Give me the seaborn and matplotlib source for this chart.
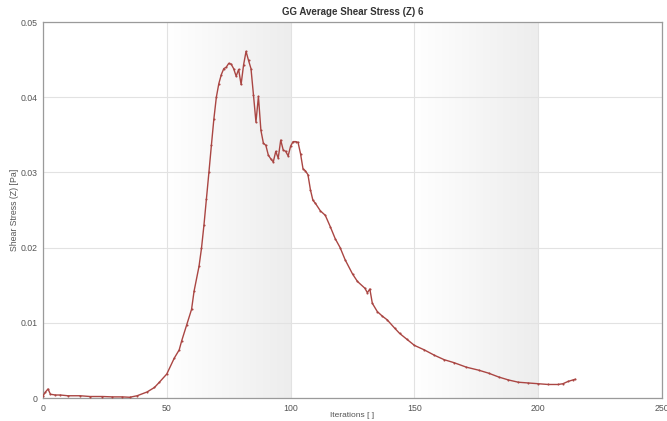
import numpy as np
import pandas as pd
import seaborn as sns
import matplotlib.pyplot as plt
from matplotlib.colors import LinearSegmentedColormap
from matplotlib.ticker import MultipleLocator

# values
iterations = [0, 1, 2, 3, 5, 7, 10, 15, 19, 24, 28, 32, 35, 38, 42, 45, 47, 50,
              53, 55, 56, 58, 60, 61, 63, 64, 65, 66, 67, 68, 69, 70, 71, 72,
              73, 74, 75, 76, 77, 78, 79, 80, 81, 82, 83, 84, 85, 86, 87, 88,
              89, 90, 91, 92, 93, 94, 95, 96, 97, 98, 99, 100, 101, 102, 103,
              104, 105, 106, 107, 108, 109, 110, 112, 114, 116, 118, 120, 122,
              125, 127, 130, 131, 132, 133, 135, 137, 139, 142, 144, 147, 150,
              154, 158, 162, 166, 171, 176, 180, 184, 188, 192, 196, 200, 204,
              208, 210, 212, 214, 215]
stress = [0.0003, 0.0008, 0.0012, 0.0005, 0.0004, 0.0004, 0.0003, 0.0003,
          0.0002, 0.0002, 0.00015, 0.00015, 0.0001, 0.0003, 0.0008, 0.0014,
          0.0021, 0.0032, 0.0053, 0.0064, 0.0076, 0.0097, 0.0118, 0.0142,
          0.0175, 0.0199, 0.0230, 0.0265, 0.0300, 0.0336, 0.0371, 0.0400,
          0.0418, 0.0430, 0.0438, 0.0440, 0.0445, 0.0444, 0.0438, 0.0428,
          0.0437, 0.0417, 0.0443, 0.0461, 0.0449, 0.0438, 0.0403, 0.0367,
          0.0401, 0.0356, 0.0339, 0.0336, 0.0323, 0.0318, 0.0314, 0.0328,
          0.0319, 0.0343, 0.0330, 0.0328, 0.0322, 0.0335, 0.0341, 0.0341,
          0.0340, 0.0325, 0.0305, 0.0302, 0.0297, 0.0277, 0.0263, 0.0259,
          0.0249, 0.0243, 0.0228, 0.0212, 0.0200, 0.0184, 0.0165, 0.0155,
          0.0146, 0.0140, 0.0145, 0.0126, 0.0115, 0.0109, 0.0104, 0.0093,
          0.0086, 0.0078, 0.0070, 0.0064, 0.0057, 0.0051, 0.0047, 0.0041,
          0.0037, 0.0033, 0.0028, 0.0024, 0.0021, 0.0020, 0.0019, 0.0018,
          0.0018, 0.0019, 0.0022, 0.0024, 0.0025]

df = pd.DataFrame({'iteration': iterations, 'stress': stress})

sns.set_style('white')
plt.rcParams['font.family'] = ['Liberation Sans', 'DejaVu Sans']

fig = plt.figure(figsize=(6.67, 4.21), dpi=100)
ax = fig.add_axes([0.0645, 0.0546, 0.928, 0.893])

# shaded bands with a white-to-grey gradient
band_cmap = LinearSegmentedColormap.from_list('band', ['#ffffff', '#ededed'])
grad = np.linspace(0, 1, 256).reshape(1, -1)
for x0, x1 in [(50, 100), (150, 200)]:
    ax.imshow(grad, extent=[x0, x1, 0, 0.05], aspect='auto', cmap=band_cmap,
              zorder=0)

sns.lineplot(x='iteration', y='stress', data=df, ax=ax, color='#aa4643',
             linewidth=1.0, marker='o', markersize=1.5, markeredgewidth=0,
             zorder=3)

ax.set_xlim(0, 250)
ax.set_ylim(0, 0.05)
ax.xaxis.set_major_locator(MultipleLocator(50))
ax.xaxis.set_minor_locator(MultipleLocator(10))
ax.yaxis.set_major_locator(MultipleLocator(0.01))
ax.yaxis.set_minor_locator(MultipleLocator(0.002))
ax.set_yticks([0, 0.01, 0.02, 0.03, 0.04, 0.05])
ax.set_yticklabels(['0', '0.01', '0.02', '0.03', '0.04', '0.05'])

ax.grid(True, which='major', color='#e2e2e2', linewidth=0.8, zorder=1)
ax.set_axisbelow(True)
ax.tick_params(which='both', direction='out', colors='#888888',
               labelcolor='#555555', labelsize=6.3, length=3, width=0.6,
               pad=1)
ax.tick_params(which='minor', length=2)
for side in ax.spines.values():
    side.set_color('#9a9a9a')
    side.set_linewidth(0.9)

ax.set_title('GG Average Shear Stress (Z) 6', fontsize=7, fontweight='bold',
             color='#333333', pad=5)
ax.set_xlabel('Iterations [ ]', fontsize=6, color='#555555', labelpad=-0.5)
ax.set_ylabel('Shear Stress (Z) [Pa]', fontsize=6.3, color='#555555',
              labelpad=1)

fig.savefig('out.png', dpi=100)
